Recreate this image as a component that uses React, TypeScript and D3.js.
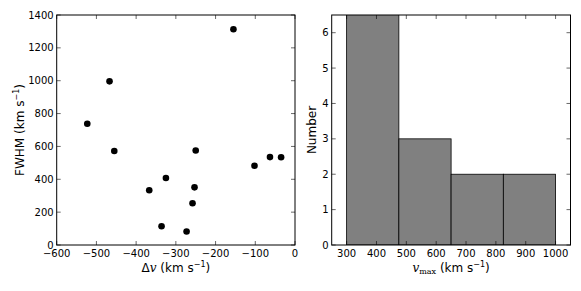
import React from "react";
import * as d3 from "d3";

const dvValues = [-155, -467, -523, -455, -250, -102, -63, -35, -325, -367, -253, -258, -336, -273];
const fwhmValues = [1313, 996, 738, 572, 575, 482, 535, 534, 408, 333, 351, 254, 114, 82];

const binEdges = [300, 475, 650, 825, 1000];
const binCounts = [7, 3, 2, 2];

const leftXTicks = [-600, -500, -400, -300, -200, -100, 0];
const leftYTicks = [0, 200, 400, 600, 800, 1000, 1200, 1400];
const rightXTicks = [300, 400, 500, 600, 700, 800, 900, 1000];
const rightYTicks = [0, 1, 2, 3, 4, 5, 6];

const W = 581;
const H = 291;
const FONT = "DejaVu Sans, sans-serif";

export default function App() {
  const top = 15;
  const bottom = 245;
  const lx0 = 56.7, lx1 = 295;
  const rx0 = 331.7, rx1 = 570.5;

  const xL = d3.scaleLinear().domain([-600, 0]).range([lx0, lx1]);
  const yL = d3.scaleLinear().domain([0, 1400]).range([bottom, top]);
  const xR = d3.scaleLinear().domain([250, 1050]).range([rx0, rx1]);
  const yR = d3.scaleLinear().domain([0, 6.5]).range([bottom, top]);

  const tickLen = 4;
  const tickColor = "#000";

  return (
    <svg width={W} height={H} style={{ position: "absolute", left: 0, top: 0 }} fontFamily={FONT}>
      <rect width={W} height={H} fill="#fff" />
      {/* Left scatter */}
      <defs>
        <clipPath id="clipR">
          <rect x={rx0} y={top} width={rx1 - rx0} height={bottom - top} />
        </clipPath>
      </defs>
      {dvValues.map((v, i) => (
        <circle key={i} cx={xL(v)} cy={yL(fwhmValues[i])} r={3.3} fill="#000" />
      ))}
      {leftXTicks.map((t) => (
        <g key={"lx" + t}>
          <line x1={xL(t)} x2={xL(t)} y1={bottom} y2={bottom - tickLen} stroke={tickColor} strokeWidth={0.6} />
          <line x1={xL(t)} x2={xL(t)} y1={top} y2={top + tickLen} stroke={tickColor} strokeWidth={0.6} />
          <text x={xL(t)} y={257} fontSize={10} textAnchor="middle">
            {t < 0 ? "\u2212" + Math.abs(t) : t}
          </text>
        </g>
      ))}
      {leftYTicks.map((t) => (
        <g key={"ly" + t}>
          <line x1={lx0} x2={lx0 + tickLen} y1={yL(t)} y2={yL(t)} stroke={tickColor} strokeWidth={0.6} />
          <line x1={lx1} x2={lx1 - tickLen} y1={yL(t)} y2={yL(t)} stroke={tickColor} strokeWidth={0.6} />
          <text x={lx0 - 3} y={yL(t) + 3.6} fontSize={10} textAnchor="end">
            {t}
          </text>
        </g>
      ))}
      <rect x={lx0} y={top} width={lx1 - lx0} height={bottom - top} fill="none" stroke="#000" strokeWidth={1} />
      <text x={(lx0 + lx1) / 2} y={272} fontSize={12} textAnchor="middle">
        Δ<tspan fontFamily="DejaVu Serif, serif" fontStyle="italic">v</tspan> (km s
        <tspan dy={-5} fontSize={8}>−1</tspan>
        <tspan dy={5}>)</tspan>
      </text>
      <text transform={`translate(24,${(top + bottom) / 2}) rotate(-90)`} fontSize={12} textAnchor="middle">
        FWHM (km s<tspan dy={-5} fontSize={8}>−1</tspan>
        <tspan dy={5}>)</tspan>
      </text>

      {/* Right histogram */}
      <g clipPath="url(#clipR)">
        {binCounts.map((c, i) => (
          <rect
            key={i}
            x={xR(binEdges[i])}
            y={yR(c)}
            width={xR(binEdges[i + 1]) - xR(binEdges[i])}
            height={bottom - yR(c)}
            fill="#808080"
            stroke="#000"
            strokeWidth={0.8}
          />
        ))}
      </g>
      {rightXTicks.map((t) => (
        <g key={"rx" + t}>
          <line x1={xR(t)} x2={xR(t)} y1={bottom} y2={bottom - tickLen} stroke={tickColor} strokeWidth={0.6} />
          <line x1={xR(t)} x2={xR(t)} y1={top} y2={top + tickLen} stroke={tickColor} strokeWidth={0.6} />
          <text x={xR(t)} y={257} fontSize={10} textAnchor="middle">
            {t}
          </text>
        </g>
      ))}
      {rightYTicks.map((t) => (
        <g key={"ry" + t}>
          <line x1={rx0} x2={rx0 + tickLen} y1={yR(t)} y2={yR(t)} stroke={tickColor} strokeWidth={0.6} />
          <line x1={rx1} x2={rx1 - tickLen} y1={yR(t)} y2={yR(t)} stroke={tickColor} strokeWidth={0.6} />
          <text x={rx0 - 3} y={yR(t) + 3.6} fontSize={10} textAnchor="end">
            {t}
          </text>
        </g>
      ))}
      <rect x={rx0} y={top} width={rx1 - rx0} height={bottom - top} fill="none" stroke="#000" strokeWidth={1} />
      <text x={(rx0 + rx1) / 2} y={272} fontSize={12} textAnchor="middle">
        <tspan fontFamily="DejaVu Serif, serif" fontStyle="italic">v</tspan>
        <tspan fontFamily="DejaVu Serif, serif" fontSize={8} dy={2}>max</tspan>
        <tspan dy={-2}> (km s</tspan>
        <tspan dy={-5} fontSize={8}>−1</tspan>
        <tspan dy={5}>)</tspan>
      </text>
      <text transform={`translate(316,${(top + bottom) / 2}) rotate(-90)`} fontSize={12} textAnchor="middle">
        Number
      </text>
    </svg>
  );
}
